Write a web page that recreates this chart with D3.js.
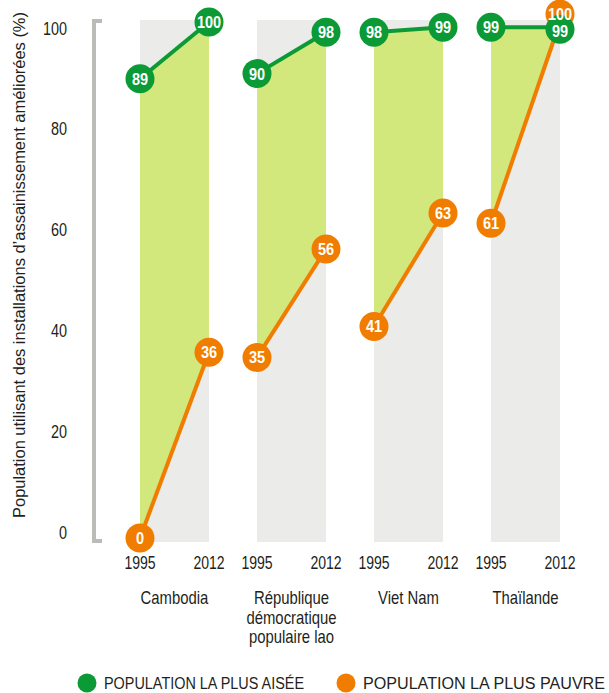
<!DOCTYPE html>
<html>
<head>
<meta charset="utf-8">
<script src="https://cdn.jsdelivr.net/npm/d3@7"></script>
<style>
  body { margin: 0; background: #fff; }
  svg text { font-family: "Liberation Sans", Arial, sans-serif; fill: #231f20; }
</style>
</head>
<body>
<div id="chart"></div>
<script>
// data
const countries = ["Cambodia", "République démocratique populaire lao", "Viet Nam", "Thaïlande"];
const countryLines = [["Cambodia"], ["République", "démocratique", "populaire lao"], ["Viet Nam"], ["Thaïlande"]];
const years = ["1995", "2012"];
const richest1995 = [89, 90, 98, 99];
const richest2012 = [100, 98, 99, 99];
const poorest1995 = [0, 35, 41, 61];
const poorest2012 = [36, 56, 63, 100];
const yTicks = [0, 20, 40, 60, 80, 100];
const legendLabels = ["POPULATION LA PLUS AISÉE", "POPULATION LA PLUS PAUVRE"];

const green = "#0b9a36", orange = "#f07d00", fillGreen = "#d2e87c", band = "#ebebea";

const width = 609, height = 693;
const svg = d3.select("#chart").append("svg")
  .attr("width", width).attr("height", height);

// condensed look: squeeze text horizontally around its anchor
function squeeze(sel, fx, fy, sx) {
  sel.attr("transform", (d, i) => `translate(${fx(d, i)},${fy(d, i)}) scale(${sx},1)`);
}

// scales
const y = d3.scaleLinear().domain([0, 100]).range([538, 22]);
const yLab = d3.scaleLinear().domain([0, 100]).range([532, 28]);
const xGroup = d3.scaleBand().domain(countries).range([140, 608]);
const xYear = d3.scalePoint().domain(years).range([0, 69]);
const xp = (c, yr) => xGroup(c) + xYear(yr);

const data = countries.map((c, i) => ({
  country: c,
  rich: [richest1995[i], richest2012[i]],
  poor: [poorest1995[i], poorest2012[i]]
}));

// gray bands
svg.selectAll(".band").data(data).join("rect")
  .attr("x", d => xp(d.country, "1995"))
  .attr("y", 20)
  .attr("width", xYear("2012"))
  .attr("height", 542 - 20)
  .attr("fill", band);

// green fill between the two lines
svg.selectAll(".area").data(data).join("path")
  .attr("fill", fillGreen)
  .attr("d", d => {
    const pts = [
      [xp(d.country, "1995"), y(d.rich[0])],
      [xp(d.country, "2012"), y(d.rich[1])],
      [xp(d.country, "2012"), y(d.poor[1])],
      [xp(d.country, "1995"), y(d.poor[0])]
    ];
    return "M" + pts.join("L") + "Z";
  });

// y axis bracket
svg.append("path")
  .attr("d", `M102,${y(100) - 1}H94V${y(0) + 3}H102`)
  .attr("fill", "none").attr("stroke", "#bcbbb7").attr("stroke-width", 4);

svg.selectAll(".ytick").data(yTicks).join("text")
  .attr("dy", "0.35em")
  .attr("text-anchor", "end")
  .attr("font-size", 19)
  .text(d => d)
  .call(squeeze, () => 67, d => yLab(d), 0.76);

svg.append("text")
  .attr("transform", `translate(25,265) rotate(-90)`)
  .attr("text-anchor", "middle")
  .attr("font-size", 16.5)
  .attr("textLength", 506)
  .attr("lengthAdjust", "spacingAndGlyphs")
  .text("Population utilisant des installations d’assainissement améliorées (%)");

// lines
const line = d3.line();
svg.selectAll(".poorLine").data(data).join("path")
  .attr("fill", "none").attr("stroke", orange).attr("stroke-width", 4)
  .attr("d", d => line(years.map((yr, j) => [xp(d.country, yr), y(d.poor[j])])));
svg.selectAll(".richLine").data(data).join("path")
  .attr("fill", "none").attr("stroke", green).attr("stroke-width", 4)
  .attr("d", d => line(years.map((yr, j) => [xp(d.country, yr), y(d.rich[j])])));

// points (orange one nudged up where it sits on a green one)
const pts = [];
data.forEach(d => years.forEach((yr, j) => {
  const clash = Math.abs(d.poor[j] - d.rich[j]) < 3;
  pts.push({ x: xp(d.country, yr), v: d.poor[j], c: orange, dy: clash ? -8 : 0 });
}));
data.forEach(d => years.forEach((yr, j) => {
  const clash = Math.abs(d.poor[j] - d.rich[j]) < 3;
  pts.push({ x: xp(d.country, yr), v: d.rich[j], c: green, dy: clash ? 2 : 0 });
}));

svg.selectAll(".dot").data(pts).join("circle")
  .attr("cx", d => d.x).attr("cy", d => y(d.v) + d.dy)
  .attr("r", 14.5)
  .attr("fill", d => d.c);

svg.selectAll(".dotLabel").data(pts).join("text")
  .attr("dy", "0.36em")
  .attr("text-anchor", "middle")
  .attr("font-size", 16.5)
  .attr("font-weight", "bold")
  .style("fill", "#fff")
  .text(d => d.v)
  .call(squeeze, d => d.x, d => y(d.v) + d.dy + (d.dy > 0 ? 2 : 0), 0.88);

// year labels
data.forEach(d => {
  svg.selectAll(null).data(years).join("text")
    .attr("dy", "0.35em")
    .attr("text-anchor", "middle")
    .attr("font-size", 18)
    .text(yr => yr)
    .call(squeeze, yr => xp(d.country, yr), () => 563, 0.78);
});

// country labels
countries.forEach((c, i) => {
  const cx = xGroup(c) + xYear("2012") / 2;
  const t = svg.append("text")
    .attr("text-anchor", "middle")
    .attr("font-size", 17.5)
    .attr("transform", `translate(${cx},598) scale(0.85,1)`);
  countryLines[i].forEach((ln, k) => {
    t.append("tspan")
      .attr("x", 0)
      .attr("dy", k === 0 ? "0.35em" : 19.5)
      .text(ln);
  });
});

// legend
const legX = [87, 346];
const legLen = [200, 242];
const legC = [green, orange];
legendLabels.forEach((lab, i) => {
  svg.append("circle").attr("cx", legX[i]).attr("cy", 683).attr("r", 9.5).attr("fill", legC[i]);
  svg.append("text").attr("x", legX[i] + 17).attr("y", 683).attr("dy", "0.35em")
    .attr("font-size", 16)
    .attr("textLength", legLen[i])
    .attr("lengthAdjust", "spacingAndGlyphs")
    .text(lab);
});
</script>
</body>
</html>
